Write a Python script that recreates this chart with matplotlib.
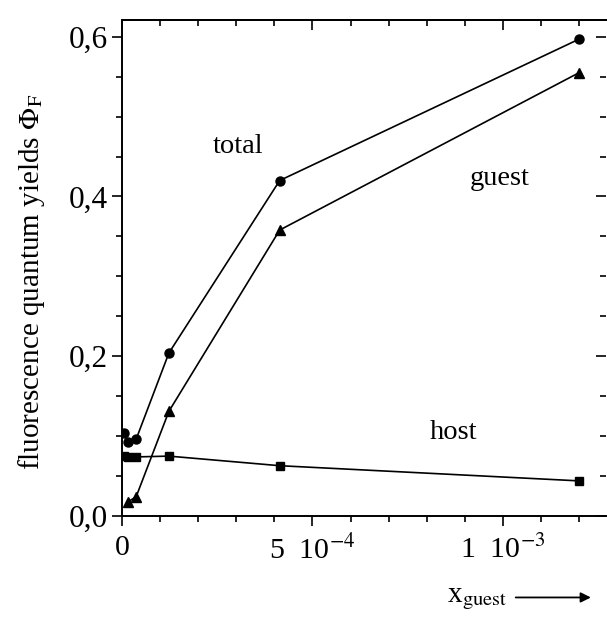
import matplotlib
matplotlib.use("Agg")
import matplotlib.pyplot as plt
from matplotlib.ticker import MultipleLocator

plt.rcParams['font.family'] = ['Liberation Serif', 'DejaVu Serif']
plt.rcParams['mathtext.fontset'] = 'stix'

# data
x_total = [5e-6, 1.6e-5, 3.7e-5, 1.23e-4, 4.14e-4, 1.2e-3]
y_total = [0.104, 0.093, 0.096, 0.204, 0.420, 0.597]

x_guest = [1.6e-5, 3.7e-5, 1.23e-4, 4.14e-4, 1.2e-3]
y_guest = [0.018, 0.024, 0.131, 0.358, 0.555]

x_host = [5e-6, 1.6e-5, 3.7e-5, 1.23e-4, 4.14e-4, 1.2e-3]
y_host = [0.075, 0.074, 0.074, 0.075, 0.063, 0.044]

x_ticks = [0, 5e-4, 1e-3]
x_ticklabels = ['0', r'5  10$^{-4}$', r'1  10$^{-3}$']
y_ticks = [0.0, 0.2, 0.4, 0.6]
y_ticklabels = ['0,0', '0,2', '0,4', '0,6']

fs = 20.5

fig = plt.figure(figsize=(6.07, 6.23), dpi=100)
ax = fig.add_axes([0.201, 0.1717, 0.797, 0.7963])

ax.plot(x_total, y_total, color='black', lw=1.2, marker='o', ms=6.5)
ax.plot(x_guest, y_guest, color='black', lw=1.2, marker='^', ms=7)
ax.plot(x_host, y_host, color='black', lw=1.2, marker='s', ms=6)

ax.set_xlim(0, 1.27e-3)
ax.set_ylim(0, 0.621)

ax.set_xticks(x_ticks)
ax.set_xticklabels(x_ticklabels, fontsize=21.5)
ax.set_yticks(y_ticks)
ax.set_yticklabels(y_ticklabels, fontsize=22.5)
ax.xaxis.set_minor_locator(MultipleLocator(1e-4))
ax.yaxis.set_minor_locator(MultipleLocator(0.05))
ax.tick_params(which='major', direction='out', length=7, width=1.2)
ax.tick_params(axis='x', which='major', pad=7)
ax.tick_params(axis='y', which='major', pad=3)
ax.tick_params(which='minor', direction='out', length=4, width=1.2)
ax.spines['right'].set_visible(False)
for s in ['left', 'bottom', 'top']:
    ax.spines[s].set_linewidth(1.4)

# inward ticks on top and right
top = ax.secondary_xaxis('top')
top.set_xticks(x_ticks)
top.xaxis.set_minor_locator(MultipleLocator(1e-4))
top.tick_params(which='major', direction='in', length=7, width=1.2, labeltop=False)
top.tick_params(which='minor', direction='in', length=4, width=1.2)
top.spines['top'].set_linewidth(1.4)

right = ax.secondary_yaxis('right')
right.set_yticks(y_ticks)
right.yaxis.set_minor_locator(MultipleLocator(0.05))
right.tick_params(which='major', direction='in', length=7, width=1.2, labelright=False)
right.tick_params(which='minor', direction='in', length=4, width=1.2)
right.spines['right'].set_visible(False)

ax.set_ylabel(r'fluorescence quantum yields $\Phi_{\rm F}$', fontsize=21)
ax.yaxis.set_label_coords(-0.155, 0.472)

ax.text(3.04e-4, 0.462, 'total', fontsize=fs, ha='center', va='center')
ax.text(9.92e-4, 0.423, 'guest', fontsize=fs, ha='center', va='center')
ax.text(8.69e-4, 0.105, 'host', fontsize=fs, ha='center', va='center')

fig.text(0.737, 0.034, r'x$_{\rm guest}$', fontsize=21, ha='left', va='baseline')
fig.add_artist(matplotlib.patches.FancyArrowPatch(
    (0.845, 0.041), (0.978, 0.041), transform=fig.transFigure,
    arrowstyle='-|>', mutation_scale=15, color='black', lw=1.3))

fig.savefig('out.png', dpi=100)
